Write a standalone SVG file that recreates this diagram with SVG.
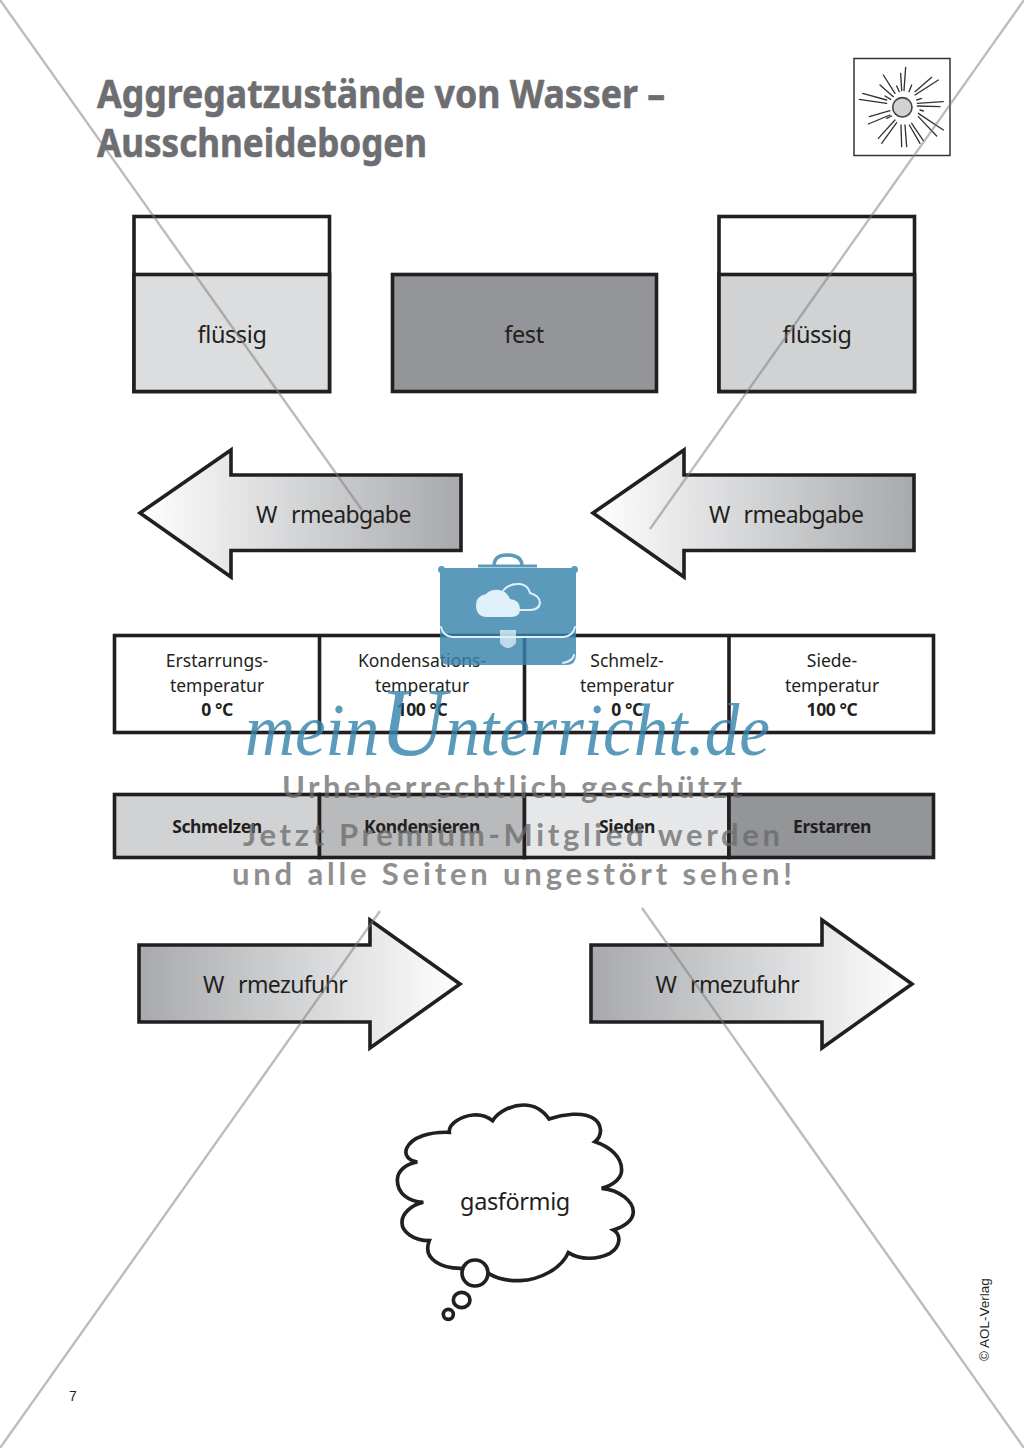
<svg xmlns="http://www.w3.org/2000/svg" width="1024" height="1448" viewBox="0 0 1024 1448">
<style>
text{font-family:"Noto Sans","Open Sans",sans-serif;fill:#231f20}
.s{stroke:#231f20;stroke-width:3.6;stroke-linejoin:miter;stroke-miterlimit:8}
.l{font-size:23.500px;letter-spacing:-.4px;text-anchor:middle}
.a{font-size:23px;letter-spacing:-.6px}
.t{font-size:17.500px;text-anchor:middle}
.b{font-size:17.500px;letter-spacing:-.4px;text-anchor:middle;font-weight:700}
.h{font-size:40px;font-weight:700;fill:#6d6e71;stroke:#6d6e71;stroke-width:.6}
.x{stroke:#7a7a7a;stroke-opacity:.5;stroke-width:2.400;fill:none}
.w{font-family:Lato,"Open Sans",sans-serif;font-size:31px;font-weight:700;fill:#6a6a6a;opacity:.75}
.r{stroke:#333;stroke-width:4;fill:none;stroke-linecap:round}
.c{stroke:#dff0fa;fill:none;stroke-linecap:round}
</style>
<defs>
<linearGradient id="gl" x1="0" x2="1" y1="0" y2="0"><stop offset="0" stop-color="#fff"/><stop offset="1" stop-color="#a7a9ac"/></linearGradient>
<linearGradient id="gr" x1="0" x2="1" y1="0" y2="0"><stop offset="0" stop-color="#a7a9ac"/><stop offset="1" stop-color="#fff"/></linearGradient>
</defs>
<rect width="1024" height="1448" fill="#fff"/>

<g id="title">
<text class="h" x="97" y="108" textLength="568" lengthAdjust="spacingAndGlyphs">Aggregatzustände von Wasser –</text>
<text class="h" x="97" y="157" textLength="330" lengthAdjust="spacingAndGlyphs">Ausschneidebogen</text>
</g>

<g id="sun-icon">
<rect x="854" y="58.500" width="96" height="97" fill="#fff" stroke="#333" stroke-width="1.500"/>
<g transform="translate(840 50) scale(.3333)">
<circle cx="187" cy="172" r="29" fill="#d1d2d4" stroke="#444" stroke-width="5"/>
<path class="r" d="M182 70L185 122M197 52L192 122M130 75L165 130M120 105L160 140M295 90L225 135M275 82L225 125M68 130L140 150M58 148L140 160M310 155L232 160M300 170L232 168M88 200L150 182M85 222L150 195M310 240L235 190M290 258L235 200M115 265L165 210M125 280L170 218M185 290L183 225M200 290L195 225M250 272L215 220M240 280L208 225M170 108L178 125M215 105L207 125M135 138L152 148M245 145L230 150M240 180L250 183M140 205L155 198"/>
</g>
</g>

<g id="box-fluessig-left">
<rect class="s" x="134" y="216.500" width="195.500" height="175" fill="#fff"/>
<rect class="s" x="134" y="274.500" width="195.500" height="117" fill="#dcddde"/>
<text class="l" x="232" y="343">flüssig</text>
</g>
<g id="box-fest">
<rect class="s" x="392.500" y="274.500" width="264" height="117" fill="#939598"/>
<text class="l" x="524" y="343">fest</text>
</g>
<g id="box-fluessig-right">
<rect class="s" x="719" y="216.500" width="195.500" height="175" fill="#fff"/>
<rect class="s" x="719" y="274.500" width="195.500" height="117" fill="#d1d2d4"/>
<text class="l" x="817" y="343">flüssig</text>
</g>

<g id="arrow-abgabe-left">
<polygon class="s" points="140,513 231,450 231,475 461,475 461,550.500 231,550.500 231,577" fill="url(#gl)"/>
<text class="a" y="523"><tspan x="256">W</tspan><tspan x="291">rmeabgabe</tspan></text>
</g>
<g id="arrow-abgabe-right">
<polygon class="s" points="593,513 684,450 684,475 914,475 914,550.500 684,550.500 684,577" fill="url(#gl)"/>
<text class="a" y="523"><tspan x="709">W</tspan><tspan x="743.500">rmeabgabe</tspan></text>
</g>

<g id="table-temperatures">
<rect class="s" x="114.500" y="635.500" width="819" height="97" fill="#fff"/>
<path class="s" d="M319.500 635.500V732.500M524.500 635.500V732.500M729 635.500V732.500" fill="none"/>
<text class="t" x="217" y="667">Erstarrungs-</text><text class="t" x="217" y="692">temperatur</text><text class="b" x="217" y="716">0 °C</text>
<text class="t" x="422" y="667">Kondensations-</text><text class="t" x="422" y="692">temperatur</text><text class="b" x="422" y="716">100 °C</text>
<text class="t" x="627" y="667">Schmelz-</text><text class="t" x="627" y="692">temperatur</text><text class="b" x="627" y="716">0 °C</text>
<text class="t" x="832" y="667">Siede-</text><text class="t" x="832" y="692">temperatur</text><text class="b" x="832" y="716">100 °C</text>
</g>

<g id="table-processes">
<rect class="s" x="114.500" y="794.500" width="205" height="63" fill="#d1d2d4"/>
<rect class="s" x="319.500" y="794.500" width="205" height="63" fill="#b9babc"/>
<rect class="s" x="524.500" y="794.500" width="204.500" height="63" fill="#e6e7e8"/>
<rect class="s" x="729" y="794.500" width="204.500" height="63" fill="#939598"/>
<text class="b" x="217" y="833">Schmelzen</text>
<text class="b" x="422" y="833">Kondensieren</text>
<text class="b" x="627" y="833">Sieden</text>
<text class="b" x="832" y="833">Erstarren</text>
</g>

<g id="arrow-zufuhr-left">
<polygon class="s" points="139,945 370,945 370,920 460,984 370,1048 370,1022 139,1022" fill="url(#gr)"/>
<text class="a" y="993"><tspan x="203">W</tspan><tspan x="238">rmezufuhr</tspan></text>
</g>
<g id="arrow-zufuhr-right">
<polygon class="s" points="591,945 822,945 822,920 912,984 822,1048 822,1022 591,1022" fill="url(#gr)"/>
<text class="a" y="993"><tspan x="655.500">W</tspan><tspan x="690">rmezufuhr</tspan></text>
</g>

<g id="cloud-gasfoermig">
<g transform="translate(380 1090) scale(.3333)" fill="#fff" stroke="#231f20" stroke-width="11">
<path d="M240 535C190 535 125 510 148 452C100 452 65 425 66 397C66 370 95 345 130 337C85 335 52 310 52 270C52 245 75 222 112 216C85 212 72 195 80 175C95 140 150 125 208 127C205 100 245 78 280 75C300 73 322 80 338 92C355 65 395 45 430 45C465 45 490 62 507 87C550 72 610 65 640 85C665 100 670 135 645 155C690 170 725 200 725 240C725 265 700 285 665 295C720 300 760 335 760 365C760 390 735 410 700 420C725 435 722 470 690 490C650 510 600 510 565 488C545 535 480 570 420 572C385 573 350 565 325 550Z"/>
<circle cx="285" cy="549" r="39"/>
<ellipse cx="245" cy="630" rx="25" ry="23"/>
<circle cx="205" cy="673" r="15"/>
</g>
<text class="l" x="515" y="1210">gasförmig</text>
</g>

<g id="cross-lines">
<path class="x" d="M0 0L362 510M642 908L1024 1448M1024 0L650 529M380 911L0 1448"/>
</g>

<g id="footer">
<text x="69" y="1401" style="font-family:'Liberation Sans',sans-serif;font-size:14px">7</text>
<text transform="translate(989 1361) rotate(-90)" style="font-family:'Liberation Sans',sans-serif;font-size:13.500px">© AOL-Verlag</text>
</g>

<g id="watermark">
<g id="briefcase">
<path d="M440 568H576V655Q576 665 566 665H450Q440 665 440 655Z" fill="#3784ab" opacity=".82"/>
<path d="M494 566Q494 555 507 555Q522 555 522 566" fill="none" stroke="#5b9aba" stroke-width="3.500"/>
<path d="M478 566H537" stroke="#5b9aba" stroke-width="3"/>
<circle cx="441.500" cy="569.500" r="3.500" fill="#5b9aba"/>
<circle cx="574.500" cy="569.500" r="3.500" fill="#5b9aba"/>
<path class="c" stroke-width="2" d="M503 591Q509 583 520 584Q528 585 530 593Q540 596 540 603Q539 610 530 610H520"/>
<path d="M487 617Q476 617 476 605Q476 596 486 594Q491 589 499 590Q507 591 510 599Q520 600 520 609Q520 617 511 617Z" fill="#dff0fa"/>
<path class="c" stroke-width="1.800" d="M441 627Q443 636 452 637H564Q573 636 575 627"/>
<path class="c" stroke-width="2" d="M563 663Q573 661 574 655"/>
<path d="M500 630H516V643Q508 653 500 643Z" fill="#dff0fa" opacity=".75"/>
</g>
<text x="245" y="755" textLength="525" lengthAdjust="spacingAndGlyphs" style="font-family:'Liberation Serif',serif;font-style:italic;font-size:74px;fill:#3784ab;opacity:.82">mein<tspan style="font-size:98px">U</tspan>nterricht.de</text>
<text class="w" x="282" y="798" textLength="460">Urheberrechtlich geschützt</text>
<text class="w" x="243" y="846" textLength="537">Jetzt Premium-Mitglied werden</text>
<text class="w" x="232" y="885" textLength="560">und alle Seiten ungestört sehen!</text>
</g>
</svg>
